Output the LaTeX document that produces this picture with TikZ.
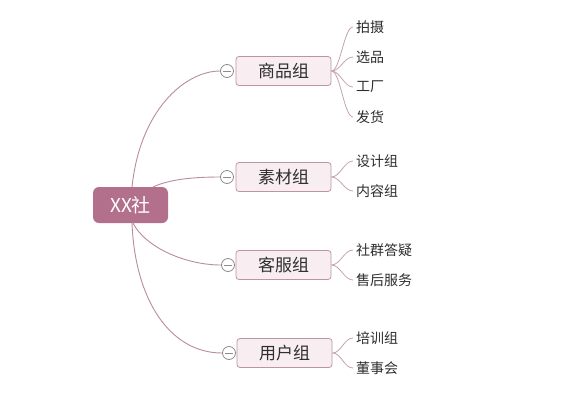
\documentclass[tikz,border=0pt]{standalone}
\usepackage{fontspec}
\setmainfont{Noto Sans CJK SC}
\definecolor{rootfill}{HTML}{B3708D}
\definecolor{linec}{HTML}{B98C9F}
\definecolor{boxfill}{HTML}{F8EEF2}
\definecolor{boxdraw}{HTML}{BE93A6}
\definecolor{txt}{HTML}{2E2E2E}
\definecolor{circd}{HTML}{8C8C8C}
\begin{document}
\begin{tikzpicture}[x=1pt,y=-1pt,
  rootbox/.style={draw=none,fill=rootfill,rounded corners=6pt,minimum width=75pt,minimum height=36pt,text=white,font=\fontsize{19}{19}\selectfont,inner sep=0pt},
  branchbox/.style={draw=boxdraw,line width=0.8pt,fill=boxfill,rounded corners=3pt,minimum width=95pt,minimum height=29pt,text=txt,font=\fontsize{17}{17}\selectfont,inner sep=0pt},
  leaf/.style={anchor=west,text=txt,font=\fontsize{14}{14}\selectfont,inner sep=0pt},
  fold/.style={circle,draw=circd,line width=0.8pt,fill=white,minimum size=13pt,inner sep=0pt,
    path picture={\draw[circd,line width=0.8pt] ([xshift=-4pt]path picture bounding box.center) -- ([xshift=4pt]path picture bounding box.center);}},
  conn/.style={draw=linec,line width=0.9pt},
  lconn/.style={draw=linec!80,line width=0.8pt}
]
\useasboundingbox (0,0) rectangle (565,400);
\fill[white] (0,0) rectangle (565,400);

% root
\node[rootbox] (root) at (130.5,205) {XX社};

% branches
\node[branchbox] (b1) at (283.5,71) {商品组};
\node[branchbox] (b2) at (283.5,177) {素材组};
\node[branchbox] (b3) at (283.5,265) {客服组};
\node[branchbox] (b4) at (284.5,353) {用户组};

\node[fold] (c1) at (227,71) {};
\node[fold] (c2) at (227,177) {};
\node[fold] (c3) at (228,265) {};
\node[fold] (c4) at (229,353) {};

\coordinate (r1) at (132,187);
\coordinate (r2) at (153,187);
\coordinate (r3) at (133,223);
\coordinate (r4) at (132,223);

\draw[conn] (r1) .. controls (140,110) and (185,71) .. (c1.west);
\draw[conn] (r2) .. controls (170,179) and (195,177) .. (c2.west);
\draw[conn] (r3) .. controls (145,247) and (185,265) .. (c3.west);
\draw[conn] (r4) .. controls (135,300) and (170,353) .. (c4.west);

% leaves
\node[leaf] (l11) at (356,27) {拍摄};
\node[leaf] (l12) at (356,57) {选品};
\node[leaf] (l13) at (356,87) {工厂};
\node[leaf] (l14) at (356,117) {发货};
\node[leaf] (l21) at (356,161) {设计组};
\node[leaf] (l22) at (356,191) {内容组};
\node[leaf] (l31) at (356,250) {社群答疑};
\node[leaf] (l32) at (356,280) {售后服务};
\node[leaf] (l41) at (356,338) {培训组};
\node[leaf] (l42) at (356,368) {董事会};

\foreach \b/\l in {b1/l11,b1/l12,b1/l13,b1/l14,b2/l21,b2/l22,b3/l31,b3/l32,b4/l41,b4/l42}{
  \path (\b.east) coordinate (s) ; \path ([xshift=-3pt]\l.west) coordinate (e);
  \draw[lconn] (s) .. controls ([xshift=9pt]s) and ([xshift=-9pt]e) .. (e);
}
\end{tikzpicture}
\end{document}
